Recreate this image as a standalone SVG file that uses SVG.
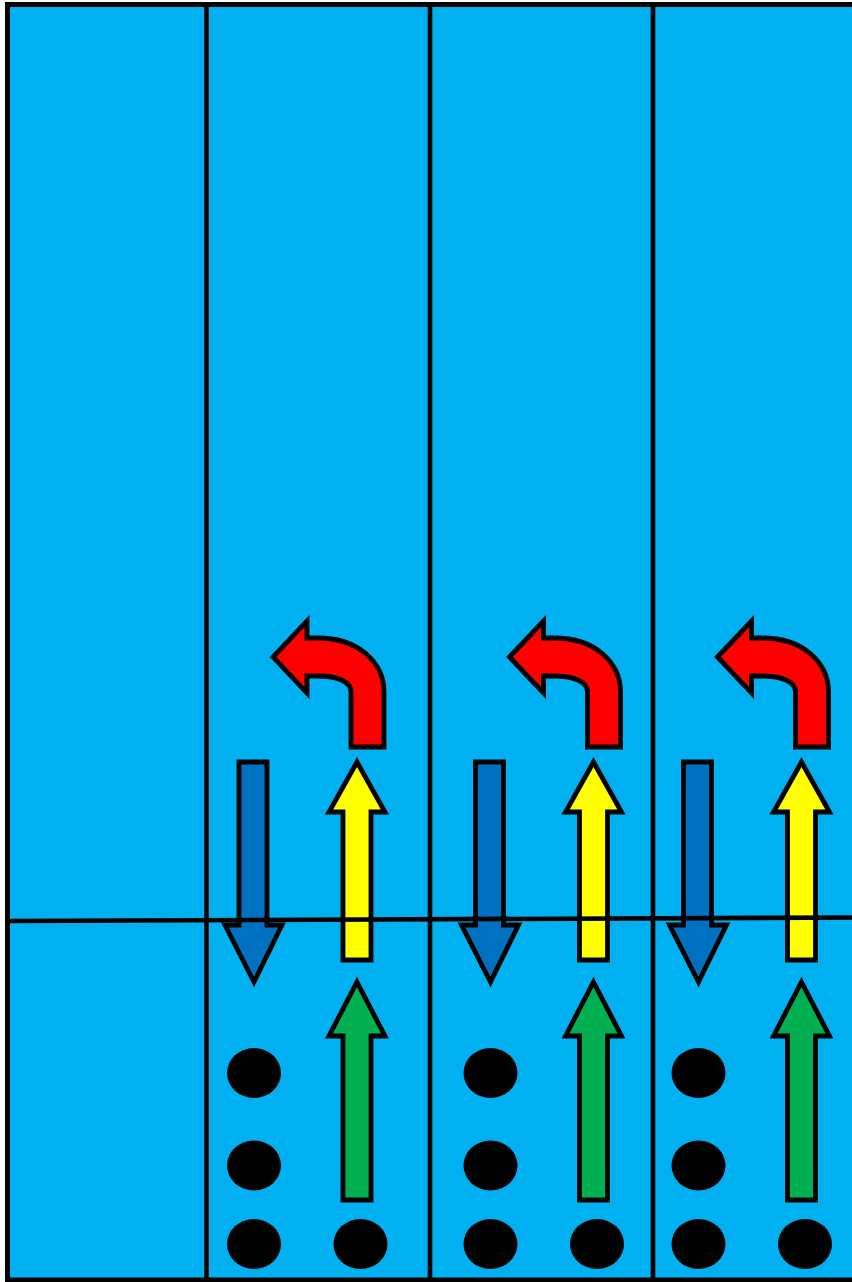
<svg xmlns="http://www.w3.org/2000/svg" width="852" height="1282" viewBox="0 0 852 1282">
<defs>
<style>
.ar{stroke:#000;stroke-width:4.8;stroke-linejoin:miter}
.red{fill:#FF0000}.blu{fill:#0070C0}.yel{fill:#FFFF00}.grn{fill:#00B050}
.ln{stroke:#000;stroke-width:4.6;fill:none}
.dot{fill:#000}
</style>
<g id="lane">
<path class="ar red" d="M273,657 L307,621 L307,638 L318,638 C358,638 384,662 384,692 L384,747 L351,747 L351,692 C351,682 338,676 318,676 L307,676 L307,693 Z"/>
<path class="ar blu" d="M239,762 L267,762 L267,925 L282,925 L254,982 L225,925 L239,925 Z"/>
<path class="ar yel" d="M357,762 L385,812 L371,812 L371,960 L343,960 L343,812 L329,812 Z"/>
<path class="ar grn" d="M357,982 L385,1036 L371,1036 L371,1200 L343,1200 L343,1036 L329,1036 Z"/>
<ellipse class="dot" cx="254" cy="1073" rx="27" ry="25"/>
<ellipse class="dot" cx="254" cy="1165.5" rx="27" ry="25"/>
<ellipse class="dot" cx="254" cy="1244" rx="27" ry="25"/>
<ellipse class="dot" cx="360.5" cy="1244" rx="27" ry="25"/>
</g>
</defs>
<g id="background">
<rect x="7.5" y="4.5" width="900" height="1275.5" fill="#00B0F0" stroke="#000" stroke-width="5"/>
</g>
<g id="lane1"><use href="#lane"/></g>
<g id="lane2"><use href="#lane" transform="translate(236.5,0)"/></g>
<g id="lane3"><use href="#lane" transform="translate(444.5,0)"/></g>
<g id="connectors">
<line class="ln" x1="206.5" y1="4" x2="206.5" y2="1281"/>
<line class="ln" x1="430" y1="4" x2="430" y2="1281"/>
<line class="ln" x1="653" y1="4" x2="653" y2="1281"/>
<line class="ln" x1="8" y1="921" x2="852" y2="917.5"/>
</g>
</svg>
